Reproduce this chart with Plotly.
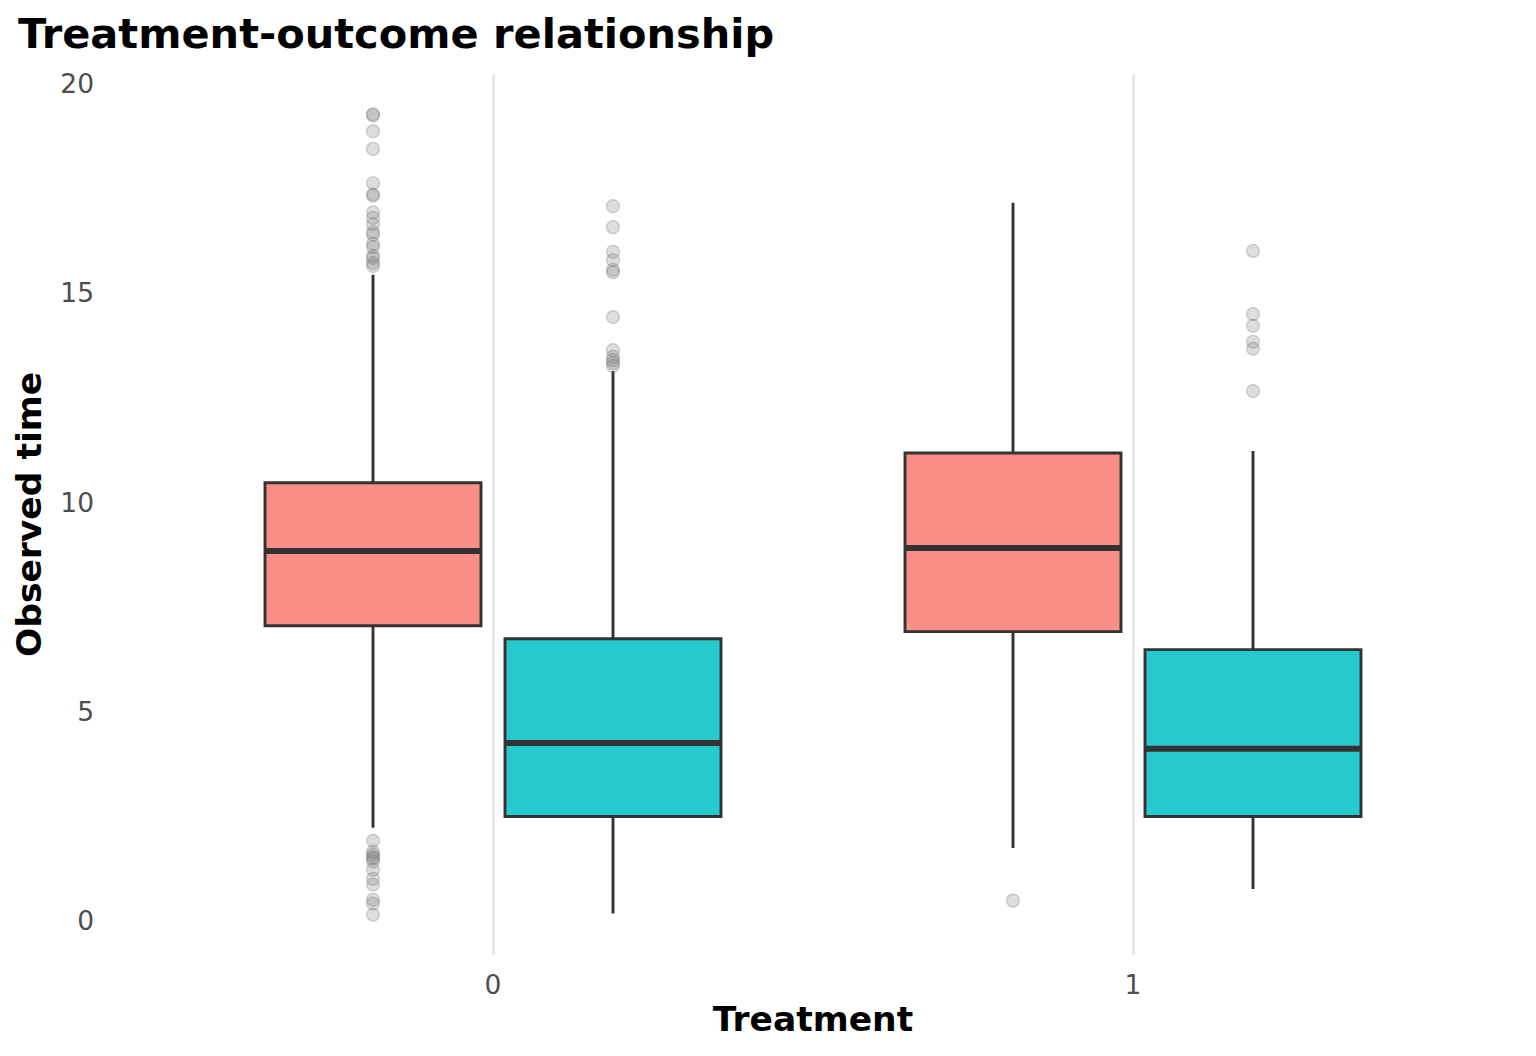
import plotly.graph_objects as go

# ---- data ----
treatments = [0, 1]
groups = ["A", "B"]  # fill groups (salmon, teal)

# box statistics per treatment, per group
q1_A = [7.05, 6.91]
med_A = [8.84, 8.91]
q3_A = [10.47, 11.18]
lo_A = [2.22, 1.74]
hi_A = [15.44, 17.16]

q1_B = [2.49, 2.49]
med_B = [4.25, 4.11]
q3_B = [6.74, 6.48]
lo_B = [0.17, 0.76]
hi_B = [13.14, 11.23]

out_A_t0 = [19.28, 19.25, 18.87, 18.45, 17.63, 17.36, 17.33, 16.93, 16.80, 16.65,
            16.46, 16.40, 16.18, 16.10, 15.89, 15.84, 15.72, 15.65,
            1.91, 1.65, 1.58, 1.52, 1.48, 1.41, 1.22, 1.00, 0.86, 0.50, 0.41, 0.14]
out_B_t0 = [17.08, 16.58, 15.99, 15.79, 15.56, 15.50, 14.43, 13.64, 13.48, 13.40,
            13.33, 13.26]
out_A_t1 = [0.48]
out_B_t1 = [16.01, 14.50, 14.22, 13.84, 13.67, 12.66]

# ---- styling ----
dodge = 0.1875
box_w = 0.3375
fill_A = "rgba(248,118,109,0.82)"
fill_B = "rgba(0,191,196,0.85)"
edge = "#333333"

fig = go.Figure()

series = [
    (-dodge, fill_A, q1_A, med_A, q3_A, lo_A, hi_A, [out_A_t0, out_A_t1]),
    (dodge, fill_B, q1_B, med_B, q3_B, lo_B, hi_B, [out_B_t0, out_B_t1]),
]

for off, fill, q1, med, q3, lo, hi, outs in series:
    xs = [t + off for t in treatments]
    # outliers first (behind boxes)
    for t, o in zip(treatments, outs):
        fig.add_trace(go.Scatter(
            x=[t + off] * len(o), y=o, mode="markers",
            marker=dict(size=13, color="rgba(130,130,130,0.27)",
                        line=dict(color="rgba(110,110,110,0.3)", width=1.2)),
            showlegend=False, hoverinfo="y"))
    fig.add_trace(go.Box(
        x=xs, q1=q1, median=med, q3=q3, lowerfence=lo, upperfence=hi,
        width=box_w, fillcolor=fill, line=dict(color=edge, width=2.9),
        whiskerwidth=0, boxpoints=False, showlegend=False))
    for x, m in zip(xs, med):
        fig.add_trace(go.Scatter(
            x=[x - box_w / 2, x + box_w / 2], y=[m, m], mode="lines",
            line=dict(color=edge, width=6), showlegend=False, hoverinfo="skip"))

fig.update_layout(
    width=1528, height=1048, autosize=False,
    paper_bgcolor="white", plot_bgcolor="white",
    margin=dict(l=101, r=19, t=66, b=101),
    font=dict(family="DejaVu Sans", color="black"),
    title=dict(text="<b>Treatment-outcome relationship</b>",
               font=dict(size=41.5, color="black", family="DejaVu Sans"),
               xref="container", yref="container", x=10 / 1528, xanchor="left",
               y=1 - 25 / 1048, yanchor="middle"),
    showlegend=False,
)
fig.update_xaxes(
    range=[-0.6, 1.6], tickvals=treatments, ticktext=[str(t) for t in treatments],
    showgrid=True, gridcolor="#e8e8e8", gridwidth=2.6, zeroline=False,
    showline=False, ticks="", ticklabelstandoff=11,
    tickfont=dict(size=26.5, color="#4d4d4d"),
    title=dict(text="<b>Treatment</b>", font=dict(size=34.5, color="black"), standoff=8),
)
fig.update_yaxes(
    range=[-0.82, 20.24], tickvals=[0, 5, 10, 15, 20],
    showgrid=False, zeroline=False, showline=False, ticks="", ticklabelstandoff=14,
    tickfont=dict(size=26.5, color="#4d4d4d"),
    title=dict(text="<b>Observed time</b>", font=dict(size=34.5, color="black"), standoff=8),
)

fig.write_html("out.html")
